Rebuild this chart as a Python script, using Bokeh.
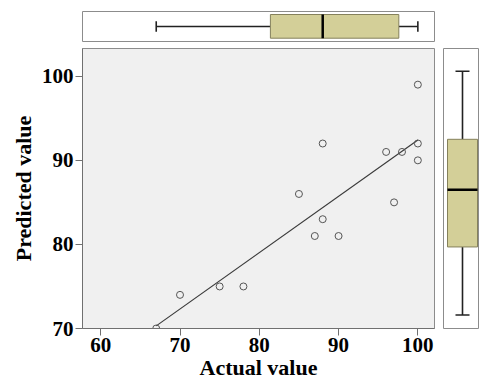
import numpy as np
from bokeh.plotting import figure
from bokeh.layouts import column, row
from bokeh.models import Range1d, FixedTicker
from bokeh.embed import file_html
from bokeh.resources import INLINE

# ---- data ----
actual = [67, 70, 75, 78, 85, 87, 88, 88, 90, 96, 97, 98, 100, 100, 100]
predicted = [70, 74, 75, 75, 86, 81, 92, 83, 81, 91, 85, 91, 99, 92, 90]
x_ticks = [60, 70, 80, 90, 100]
y_ticks = [70, 80, 90, 100]
# box-plot summaries as drawn (whisker low, Q1, median, Q3, whisker high)
actual_box = [67, 81.4, 88, 97.6, 100]
predicted_box = [71.6, 79.7, 86.5, 92.5, 100.6]

FONT = "Liberation Serif"
BOX_FILL = "#d3cf98"
BOX_LINE = "#85815c"
FRAME_LINE = "#8c8c8c"

xr = Range1d(57.7, 102.1)
yr = Range1d(70, 103.3)

# ---- main scatter ----
p = figure(width=442, height=336, x_range=xr, y_range=yr,
           output_backend="svg", toolbar_location=None,
           min_border_left=82, min_border_right=8,
           min_border_top=1, min_border_bottom=55)
p.background_fill_color = "#f0f0f0"
p.border_fill_color = "white"
p.outline_line_color = FRAME_LINE
p.grid.visible = False
p.xaxis.ticker = FixedTicker(ticks=x_ticks)
p.yaxis.ticker = FixedTicker(ticks=y_ticks)
p.xaxis.axis_label = "Actual value"
p.yaxis.axis_label = "Predicted value"
for ax in (p.xaxis[0], p.yaxis[0]):
    ax.major_label_text_font = FONT
    ax.major_label_text_font_style = "bold"
    ax.major_label_text_font_size = "21px"
    ax.major_label_text_color = "black"
    ax.axis_label_text_font = FONT
    ax.axis_label_text_font_style = "bold"
    ax.axis_label_text_font_size = "22px"
    ax.axis_label_text_color = "black"
    ax.axis_label_standoff = 0
    ax.major_tick_out = 7
    ax.major_tick_in = 0
    ax.minor_tick_out = 0
    ax.minor_tick_in = 0
    ax.axis_line_color = "#707070"
    ax.major_tick_line_color = "#707070"
    ax.major_label_standoff = 2
p.yaxis[0].axis_label_standoff = 3

# fit line
slope, icpt = np.polyfit(actual, predicted, 1)
fx = np.array([min(actual), max(actual)])
p.line(fx, slope * fx + icpt, line_color="#3a3a3a", line_width=1.2)

p.scatter(actual, predicted, marker="circle", size=7, fill_color=None,
          line_color="#555555", line_width=1)

# ---- top box plot (actual) ----
pt = figure(width=479, height=47, x_range=xr, y_range=Range1d(0, 30),
            x_axis_type=None, y_axis_type=None,
            output_backend="svg", toolbar_location=None,
            min_border_left=82, min_border_right=45,
            min_border_top=11, min_border_bottom=6)
pt.background_fill_color = "white"
pt.outline_line_color = FRAME_LINE
pt.grid.visible = False
lo, q1, med, q3, hi = actual_box
pt.segment(x0=[lo, q3], y0=[15, 15], x1=[q1, hi], y1=[15, 15], line_color="#222222", line_width=1.6)
pt.segment(x0=[lo, hi], y0=[9.7, 9.7], x1=[lo, hi], y1=[20.3, 20.3], line_color="#222222", line_width=1.6)
pt.quad(left=[q1], right=[q3], bottom=[3.3], top=[27], fill_color=BOX_FILL, line_color=BOX_LINE, line_width=1)
pt.segment(x0=[med], y0=[3.3], x1=[med], y1=[27], line_color="black", line_width=2.5)

# ---- right box plot (predicted) ----
pr = figure(width=37, height=336, x_range=Range1d(0, 36), y_range=yr,
            x_axis_type=None, y_axis_type=None,
            output_backend="svg", toolbar_location=None,
            min_border_left=1, min_border_right=0,
            min_border_top=1, min_border_bottom=55)
pr.background_fill_color = "white"
pr.outline_line_color = FRAME_LINE
pr.grid.visible = False
lo, q1, med, q3, hi = predicted_box
pr.segment(x0=[19, 19], y0=[lo, q3], x1=[19, 19], y1=[q1, hi], line_color="#222222", line_width=1.6)
pr.segment(x0=[12, 12], y0=[lo, hi], x1=[26, 26], y1=[lo, hi], line_color="#222222", line_width=1.6)
pr.quad(left=[4], right=[34], bottom=[q1], top=[q3], fill_color=BOX_FILL, line_color=BOX_LINE, line_width=1)
pr.segment(x0=[4], y0=[med], x1=[34], y1=[med], line_color="black", line_width=2.5)

layout = column(pt, row(p, pr, spacing=0), spacing=0)

open("out.html", "w").write(file_html(layout, INLINE))
